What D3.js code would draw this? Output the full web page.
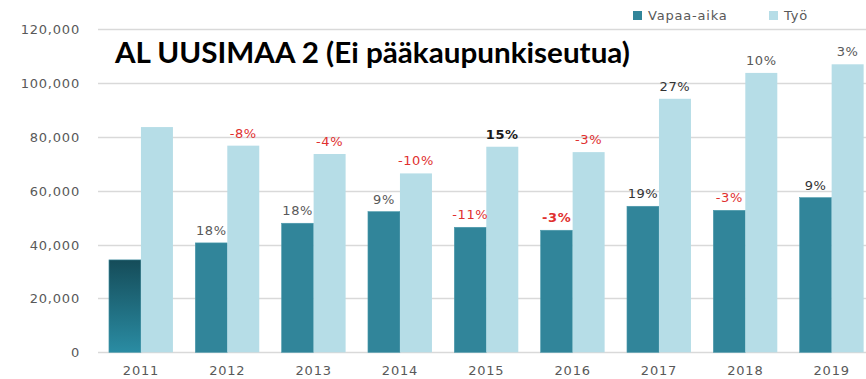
<!DOCTYPE html>
<html>
<head>
<meta charset="utf-8">
<script src="https://cdn.jsdelivr.net/npm/d3@7/dist/d3.min.js"></script>
<style>
  html, body { margin: 0; padding: 0; background: #fff; }
  svg { display: block; }
</style>
</head>
<body>
<svg id="chart" width="866" height="379"></svg>
<script>
// Years on the category axis
const years = ["2011", "2012", "2013", "2014", "2015", "2016", "2017", "2018", "2019"];
// Series values
const vapaaAika = [34300, 40600, 47900, 52200, 46400, 45300, 54200, 52700, 57400];
const tyo       = [83600, 76700, 73600, 66400, 76300, 74300, 94100, 103700, 106900];
// Year-on-year change labels above each bar ("" = none)
const vapaaLabels = ["", "18%", "18%", "9%", "-11%", "-3%", "19%", "-3%", "9%"];
const tyoLabels   = ["", "-8%", "-4%", "-10%", "15%", "-3%", "27%", "10%", "3%"];
// Y axis ticks
const yTicks = [0, 20000, 40000, 60000, 80000, 100000, 120000];
const seriesNames = ["Vapaa-aika", "Työ"];

const svg = d3.select("#chart");
const W = 866, H = 379;

const y = d3.scaleLinear().domain([0, 120000]).range([352.3, 29]);
const x = d3.scaleBand().domain(years).range([86.6, 886]).paddingInner(0.259).paddingOuter(0.259);
const xs = d3.scaleBand().domain(seriesNames).range([0, x.bandwidth()]);

const darkCol = "#31859a";
const lightCol = "#b6dde7";

const defs = svg.append("defs");
const grad = defs.append("linearGradient").attr("id", "firstBar")
  .attr("x1", 0).attr("y1", 0).attr("x2", 0).attr("y2", 1);
grad.append("stop").attr("offset", "0%").attr("stop-color", "#154c59");
grad.append("stop").attr("offset", "100%").attr("stop-color", "#2a8ca3");

// gridlines
svg.append("g").selectAll("line").data(yTicks).join("line")
  .attr("x1", 98).attr("x2", W)
  .attr("y1", d => Math.round(y(d)) + 0.5).attr("y2", d => Math.round(y(d)) + 0.5)
  .attr("stroke", "#d9d9d9").attr("stroke-width", 1.3);

// y axis labels
const yAxis = d3.axisLeft(y).tickValues(yTicks).tickSize(0).tickPadding(0)
  .tickFormat(d3.format(","));
const gy = svg.append("g").attr("transform", "translate(80,0)").call(yAxis);
gy.select(".domain").remove();
gy.selectAll("text")
  .attr("fill", "#595959").attr("font-family", "DejaVu Sans").attr("font-size", 13)
  .attr("letter-spacing", 0.8).attr("dy", "0.35em");

// x axis labels
const xAxis = d3.axisBottom(x).tickSize(0).tickPadding(0);
const gx = svg.append("g").attr("transform", "translate(0,363)").call(xAxis);
gx.select(".domain").remove();
gx.selectAll("text")
  .attr("fill", "#595959").attr("font-family", "DejaVu Sans").attr("font-size", 13)
  .attr("letter-spacing", 0.8).attr("dy", "0.9em");

// bars
const rows = years.map((yr, i) => ({ yr, i, v: vapaaAika[i], t: tyo[i] }));
const groups = svg.append("g").selectAll("g").data(rows).join("g")
  .attr("transform", d => `translate(${x(d.yr)},0)`);

groups.append("rect")
  .attr("x", xs("Vapaa-aika")).attr("width", xs.bandwidth())
  .attr("y", d => y(d.v)).attr("height", d => y(0) - y(d.v))
  .attr("fill", d => d.i === 0 ? "url(#firstBar)" : darkCol)
  .attr("stroke", "#4a98ab").attr("stroke-width", 0.6);

groups.append("rect")
  .attr("x", xs("Työ")).attr("width", xs.bandwidth())
  .attr("y", d => y(d.t)).attr("height", d => y(0) - y(d.t))
  .attr("fill", lightCol);

// label styling per label
function labelStyle(s, i, series) {
  if (s.startsWith("-")) {
    const bold = series === "v" && i === 5;
    return { fill: "#e0302f", weight: bold ? "bold" : "normal" };
  }
  if ((series === "t" && i === 4)) return { fill: "#1a1a1a", weight: "bold" };
  if ((series === "t" && i === 6) || (series === "v" && (i === 6 || i === 8)))
    return { fill: "#333333", weight: "normal" };
  return { fill: "#595959", weight: "normal" };
}

groups.append("text")
  .attr("x", xs("Vapaa-aika") + xs.bandwidth() / 2)
  .attr("y", d => y(d.v) - 8)
  .attr("text-anchor", "middle")
  .attr("font-family", "DejaVu Sans").attr("font-size", 13).attr("letter-spacing", 0.6)
  .attr("fill", d => labelStyle(vapaaLabels[d.i], d.i, "v").fill)
  .attr("font-weight", d => labelStyle(vapaaLabels[d.i], d.i, "v").weight)
  .text(d => vapaaLabels[d.i]);

groups.append("text")
  .attr("x", xs("Työ") + xs.bandwidth() / 2)
  .attr("y", d => y(d.t) - 8)
  .attr("text-anchor", "middle")
  .attr("font-family", "DejaVu Sans").attr("font-size", 13).attr("letter-spacing", 0.6)
  .attr("fill", d => labelStyle(tyoLabels[d.i], d.i, "t").fill)
  .attr("font-weight", d => labelStyle(tyoLabels[d.i], d.i, "t").weight)
  .text(d => tyoLabels[d.i]);

// legend
const legendX = [633, 769];
const leg = svg.append("g").selectAll("g").data(seriesNames).join("g")
  .attr("transform", (d, i) => `translate(${legendX[i]},0)`);
leg.append("rect").attr("x", 0).attr("y", 11).attr("width", 9).attr("height", 9)
  .attr("fill", (d, i) => i === 0 ? darkCol : lightCol);
leg.append("text").attr("x", 15).attr("y", 20)
  .attr("font-family", "DejaVu Sans").attr("font-size", 13).attr("letter-spacing", 0.8)
  .attr("fill", "#595959").text(d => d);

// title
svg.append("text")
  .attr("x", 115).attr("y", 63)
  .attr("font-family", "Lato, 'Open Sans', sans-serif").attr("font-weight", "bold")
  .attr("font-size", 28).attr("fill", "#000")
  .attr("textLength", 515).attr("lengthAdjust", "spacingAndGlyphs")
  .text("AL UUSIMAA 2 (Ei pääkaupunkiseutua)");
</script>
</body>
</html>
